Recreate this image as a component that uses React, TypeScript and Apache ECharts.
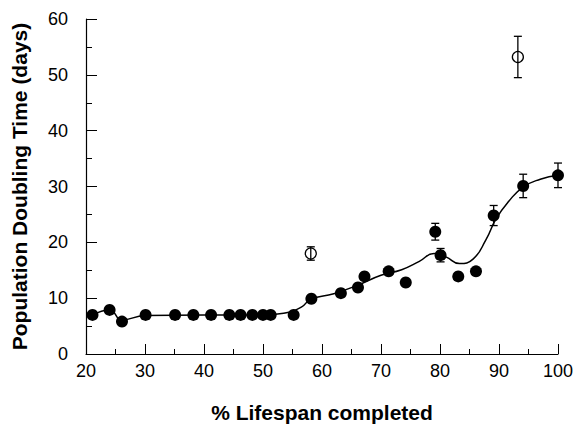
import React, { useEffect, useRef } from "react";
import * as echarts from "echarts";

// Filled circles (main series)
const filledX = [21.1, 24.0, 26.1, 30.1, 35.1, 38.2, 41.2, 44.3, 46.2, 48.2, 50.0, 51.3, 55.2, 58.2, 63.2, 66.1, 67.2, 71.3, 74.2, 79.2, 80.1, 83.1, 86.1, 89.1, 94.1, 100.0];
const filledY = [7.0, 7.9, 5.8, 7.0, 7.0, 7.0, 7.0, 7.0, 7.0, 7.0, 7.0, 7.0, 7.0, 9.9, 10.9, 11.9, 13.9, 14.8, 12.8, 21.9, 17.7, 13.9, 14.8, 24.8, 30.1, 32.0];
const filledErr = [0, 0, 0, 0, 0, 0, 0, 0, 0, 0, 0, 0, 0, 0, 0, 0, 0, 0, 0, 1.5, 1.2, 0, 0, 1.8, 2.1, 2.2];

// Open circles
const openX = [58.1, 93.2];
const openY = [18.0, 53.2];
const openErr = [1.2, 3.7];

// Fitted curve
const curveX = [21.1, 24.0, 26.1, 30.0, 40.0, 50.0, 53.5, 56.5, 58.1, 62.0, 66.0, 70.0, 73.5, 76.5, 79.0, 81.0, 83.3, 85.6, 87.8, 89.5, 91.7, 94.1, 97.0, 100.0];
const curveY = [7.0, 7.9, 6.1, 6.9, 7.0, 7.0, 7.3, 8.4, 9.8, 10.8, 12.3, 14.1, 15.1, 16.6, 18.0, 17.4, 16.2, 17.0, 20.5, 24.2, 27.4, 29.9, 31.3, 32.0];

const xTitle = "% Lifespan completed";
const yTitle = "Population Doubling Time (days)";

const FONT = "'Liberation Sans', Arial, Helvetica, sans-serif";

export default function App() {
  const ref = useRef<HTMLDivElement>(null);

  useEffect(() => {
    document.body.style.margin = "0";
    if (!ref.current) return;
    const chart = echarts.init(ref.current, null, { renderer: "svg" });

    const errData = [
      ...filledX.map((x, i) => [x, filledY[i], filledErr[i]]).filter((d) => d[2] > 0),
      ...openX.map((x, i) => [x, openY[i], openErr[i]]),
    ];

    const axisCommon = {
      type: "value" as const,
      axisLine: { show: true, lineStyle: { color: "#000", width: 1.2 } },
      splitLine: { show: false },
      axisLabel: { color: "#000", fontSize: 18, fontFamily: FONT },
      nameLocation: "middle" as const,
      nameTextStyle: { color: "#000", fontSize: 21, fontWeight: "bold", fontFamily: FONT },
    };

    chart.setOption({
      animation: false,
      backgroundColor: "#fff",
      grid: { left: 86, right: 13, top: 19, bottom: 73, containLabel: false },
      xAxis: {
        ...axisCommon,
        min: 20,
        max: 100,
        interval: 10,
        name: xTitle,
        nameGap: 48,
        axisTick: { show: true, inside: true, length: 10, lineStyle: { color: "#000", width: 1 } },
        minorTick: { show: true, splitNumber: 2, length: 5, lineStyle: { color: "#000", width: 1 } },
        axisLabel: { ...axisCommon.axisLabel, margin: 8 },
      },
      yAxis: {
        ...axisCommon,
        min: 0,
        max: 60,
        interval: 10,
        name: yTitle,
        nameGap: 56,
        axisTick: { show: true, inside: true, length: 11, lineStyle: { color: "#000", width: 1 } },
        minorTick: { show: true, splitNumber: 2, length: 6, lineStyle: { color: "#000", width: 1 } },
        axisLabel: { ...axisCommon.axisLabel, margin: 18 },
      },
      series: [
        {
          type: "line",
          data: curveX.map((x, i) => [x, curveY[i]]),
          smooth: 0.5,
          symbol: "none",
          lineStyle: { color: "#000", width: 1.5 },
          z: 1,
        },
        {
          type: "scatter",
          data: filledX.map((x, i) => [x, filledY[i]]),
          symbol: "circle",
          symbolSize: 12,
          itemStyle: { color: "#000", opacity: 1 },
          z: 3,
        },
        {
          type: "scatter",
          data: openX.map((x, i) => [x, openY[i]]),
          symbol: "circle",
          symbolSize: 11,
          itemStyle: { color: "rgba(0,0,0,0)", borderColor: "#000", borderWidth: 1.3, opacity: 1 },
          z: 3,
        },
        {
          type: "custom",
          data: errData,
          z: 4,
          renderItem: (params: any, api: any) => {
            const x = api.value(0);
            const y = api.value(1);
            const e = api.value(2);
            const top = api.coord([x, y + e]);
            const bot = api.coord([x, y - e]);
            const hw = 4;
            const st = { stroke: "#000", lineWidth: 1.3 };
            return {
              type: "group",
              children: [
                { type: "line", shape: { x1: top[0], y1: top[1], x2: bot[0], y2: bot[1] }, style: st },
                { type: "line", shape: { x1: top[0] - hw, y1: top[1], x2: top[0] + hw, y2: top[1] }, style: st },
                { type: "line", shape: { x1: bot[0] - hw, y1: bot[1], x2: bot[0] + hw, y2: bot[1] }, style: st },
              ],
            };
          },
        },
      ],
    });

    return () => chart.dispose();
  }, []);

  return <div ref={ref} style={{ position: "absolute", left: 0, top: 0, width: 576, height: 428 }} />;
}
